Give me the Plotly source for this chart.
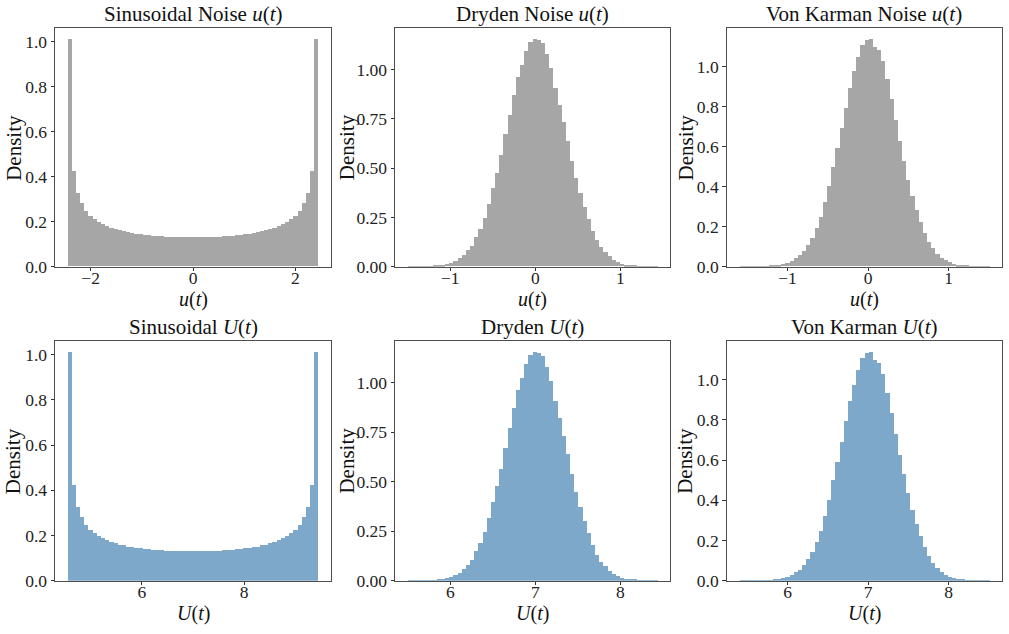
import numpy as np
import plotly.graph_objects as go

# ---------------- data (bin densities, 60 bins each) ----------------
sin_u_range = (-2.45, 2.45)
dryden_u_range = (-1.503, 1.437)
vonkarman_u_range = (-1.60, 1.502)
U_offset = 7.0  # U(t) = 7 + u(t)

sin_density = [1.010, 0.425, 0.328, 0.280, 0.248, 0.226, 0.209, 0.196, 0.187, 0.178,
               0.171, 0.165, 0.160, 0.156, 0.151, 0.148, 0.145, 0.143, 0.141, 0.139,
               0.137, 0.136, 0.134, 0.133, 0.132, 0.132, 0.131, 0.130, 0.130, 0.130,
               0.130, 0.130, 0.130, 0.131, 0.132, 0.132, 0.133, 0.134, 0.136, 0.137,
               0.139, 0.141, 0.143, 0.145, 0.148, 0.151, 0.156, 0.160, 0.165, 0.171,
               0.178, 0.187, 0.196, 0.209, 0.226, 0.248, 0.280, 0.328, 0.425, 1.010]

dryden_density = [0.0001, 0.0003, 0.0005, 0.001, 0.001, 0.002, 0.003, 0.005, 0.008, 0.012,
                  0.019, 0.029, 0.041, 0.058, 0.081, 0.106, 0.149, 0.191, 0.248, 0.318,
                  0.397, 0.476, 0.565, 0.671, 0.769, 0.869, 0.960, 1.024, 1.092, 1.140,
                  1.152, 1.148, 1.132, 1.078, 1.009, 0.907, 0.820, 0.732, 0.637, 0.537,
                  0.448, 0.370, 0.301, 0.240, 0.179, 0.132, 0.096, 0.073, 0.051, 0.035,
                  0.022, 0.014, 0.009, 0.006, 0.004, 0.002, 0.001, 0.001, 0.0005, 0.0002]

vonkarman_density = [0.0001, 0.0002, 0.0003, 0.0005, 0.0008, 0.001, 0.002, 0.003, 0.005, 0.008,
                     0.012, 0.017, 0.027, 0.042, 0.055, 0.078, 0.107, 0.143, 0.193, 0.249,
                     0.321, 0.404, 0.499, 0.590, 0.690, 0.795, 0.895, 0.976, 1.047, 1.106,
                     1.134, 1.136, 1.100, 1.084, 1.028, 0.936, 0.836, 0.732, 0.627, 0.529,
                     0.434, 0.354, 0.281, 0.221, 0.166, 0.123, 0.090, 0.063, 0.043, 0.030,
                     0.020, 0.013, 0.008, 0.005, 0.003, 0.002, 0.001, 0.0007, 0.0004, 0.0002]

titles = ["Sinusoidal Noise <i>u</i>(<i>t</i>)", "Dryden Noise <i>u</i>(<i>t</i>)",
          "Von Karman Noise <i>u</i>(<i>t</i>)",
          "Sinusoidal <i>U</i>(<i>t</i>)", "Dryden <i>U</i>(<i>t</i>)", "Von Karman <i>U</i>(<i>t</i>)"]
xlabels = ["<i>u</i>(<i>t</i>)"] * 3 + ["<i>U</i>(<i>t</i>)"] * 3
xtick_vals = [[-2, 0, 2], [-1, 0, 1], [-1, 0, 1], [6, 8], [6, 7, 8], [6, 7, 8]]
ytick_vals = [[0, 0.2, 0.4, 0.6, 0.8, 1.0], [0, 0.25, 0.5, 0.75, 1.0], [0, 0.2, 0.4, 0.6, 0.8, 1.0]] * 2
ytick_fmt = [".1f", ".2f", ".1f"] * 2

panels = [
    (sin_u_range, sin_density, 0.0),
    (dryden_u_range, dryden_density, 0.0),
    (vonkarman_u_range, vonkarman_density, 0.0),
    (sin_u_range, sin_density, U_offset),
    (dryden_u_range, dryden_density, U_offset),
    (vonkarman_u_range, vonkarman_density, U_offset),
]

GRAY = "#a6a6a6"
BLUE = "#7ea8ca"
FONT = "Liberation Serif"

W, H = 1009, 634
col_px = [(55, 331), (395, 670), (726.7, 1001.7)]
row_px = [(28.3, 266.7), (341, 580.7)]
ylabel_x = [13.3, 346.7, 685]

fig = go.Figure()
annotations = []
layout = {}
for i, (rng, dens, off) in enumerate(panels):
    r, c = divmod(i, 3)
    n = len(dens)
    edges = np.linspace(rng[0] + off, rng[1] + off, n + 1)
    centers = (edges[:-1] + edges[1:]) / 2
    w = edges[1] - edges[0]
    ax = "" if i == 0 else str(i + 1)
    fig.add_trace(go.Bar(x=centers, y=dens, width=w, marker=dict(color=GRAY if r == 0 else BLUE,
                         line=dict(width=0)), xaxis="x" + ax, yaxis="y" + ax, showlegend=False,
                         hoverinfo="x+y"))
    span = edges[-1] - edges[0]
    xr = [edges[0] - 0.05 * span, edges[-1] + 0.05 * span]
    yr = [0, max(dens) * 1.05]
    x0, x1 = col_px[c]
    yt, yb = row_px[r]
    common = dict(showline=True, mirror=True, linecolor="#4d4d4d", linewidth=1,
                  ticks="outside", ticklen=3.5, tickwidth=0.8, tickcolor="#333",
                  showgrid=False, zeroline=False, automargin=False,
                  tickfont=dict(family=FONT, size=17.5, color="#222"))
    layout["xaxis" + ax] = dict(common, domain=[x0 / W, x1 / W], range=xr, anchor="y" + ax,
                                tickmode="array", tickvals=xtick_vals[i], ticklabelstandoff=-8)
    layout["yaxis" + ax] = dict(common, domain=[1 - yb / H, 1 - yt / H], range=yr, anchor="x" + ax,
                                tickmode="array", tickvals=ytick_vals[i], tickformat=ytick_fmt[i])
    cx = (x0 + x1) / 2
    annotations.append(dict(text=titles[i], x=cx / W, y=1 - (yt - 14.5) / H, xref="paper", yref="paper",
                            xanchor="center", yanchor="middle", showarrow=False,
                            font=dict(family=FONT, size=21, color="#111")))
    annotations.append(dict(text=xlabels[i], x=cx / W, y=1 - (yb + 33) / H, xref="paper", yref="paper",
                            xanchor="center", yanchor="middle", showarrow=False,
                            font=dict(family=FONT, size=20, color="#111")))
    annotations.append(dict(text="Density", x=ylabel_x[c] / W, y=1 - ((yt + yb) / 2) / H,
                            xref="paper", yref="paper", xanchor="center", yanchor="middle",
                            showarrow=False, textangle=-90,
                            font=dict(family=FONT, size=21, color="#111")))

fig.update_layout(width=W, height=H, margin=dict(l=0, r=0, t=0, b=0),
                  paper_bgcolor="white", plot_bgcolor="white", bargap=0,
                  annotations=annotations, **layout)
fig.write_html("out.html")
